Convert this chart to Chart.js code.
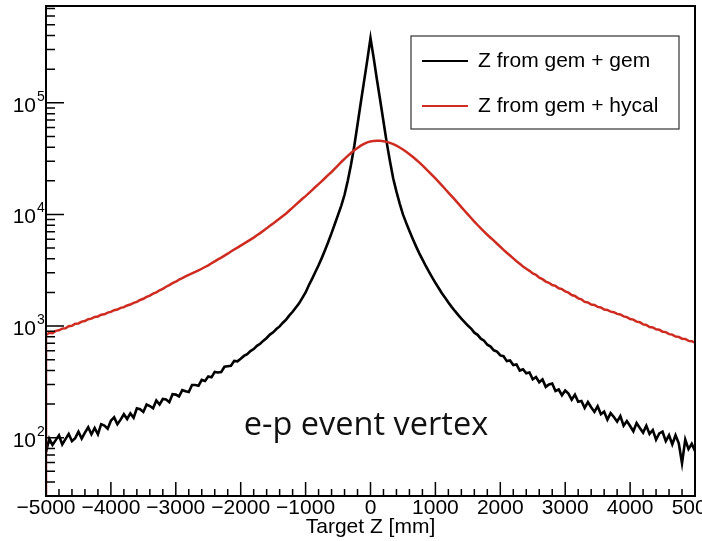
<!DOCTYPE html>
<html>
<head>
<meta charset="utf-8">
<script src="https://cdn.jsdelivr.net/npm/chart.js@4.4.1/dist/chart.umd.min.js"></script>
<style>
  body { margin: 0; background: #fff; }
</style>
</head>
<body>
<canvas id="vertex" width="702" height="541"></canvas>
<script>
// bin positions, mm
const zBins = [
  -5000, -4950, -4900, -4850, -4800, -4750, -4700, -4650, -4600, -4550,
  -4500, -4450, -4400, -4350, -4300, -4250, -4200, -4150, -4100, -4050,
  -4000, -3950, -3900, -3850, -3800, -3750, -3700, -3650, -3600, -3550,
  -3500, -3450, -3400, -3350, -3300, -3250, -3200, -3150, -3100, -3050,
  -3000, -2950, -2900, -2850, -2800, -2750, -2700, -2650, -2600, -2550,
  -2500, -2450, -2400, -2350, -2300, -2250, -2200, -2150, -2100, -2050,
  -2000, -1950, -1900, -1850, -1800, -1750, -1700, -1650, -1600, -1550,
  -1500, -1450, -1400, -1350, -1300, -1250, -1200, -1150, -1100, -1050,
  -1000, -950, -900, -850, -800, -750, -700, -650, -600, -550,
  -500, -450, -400, -350, -300, -250, -200, -150, -100, -50,
  0,
  50, 100, 150, 200, 250, 300, 350, 400, 450, 500,
  550, 600, 650, 700, 750, 800, 850, 900, 950, 1000,
  1050, 1100, 1150, 1200, 1250, 1300, 1350, 1400, 1450, 1500,
  1550, 1600, 1650, 1700, 1750, 1800, 1850, 1900, 1950, 2000,
  2050, 2100, 2150, 2200, 2250, 2300, 2350, 2400, 2450, 2500,
  2550, 2600, 2650, 2700, 2750, 2800, 2850, 2900, 2950, 3000,
  3050, 3100, 3150, 3200, 3250, 3300, 3350, 3400, 3450, 3500,
  3550, 3600, 3650, 3700, 3750, 3800, 3850, 3900, 3950, 4000,
  4050, 4100, 4150, 4200, 4250, 4300, 4350, 4400, 4450, 4500,
  4550, 4600, 4650, 4700, 4750, 4800, 4850, 4900, 4950, 5000
];

// Z from gem + gem (counts)
const gemGem = [
  74, 98, 86, 95, 105, 87, 97, 108, 93, 99,
  113, 98, 111, 124, 107, 122, 107, 132, 128, 120,
  142, 152, 132, 145, 162, 147, 165, 151, 183, 180,
  170, 198, 192, 183, 215, 198, 222, 220, 208, 245,
  243, 234, 267, 260, 256, 296, 296, 292, 329, 322,
  353, 347, 388, 384, 387, 432, 436, 440, 487, 483,
  510, 540, 560, 596, 622, 665, 694, 740, 782, 838,
  878, 940, 992, 1070, 1142, 1245, 1342, 1465, 1598, 1785,
  2000, 2320, 2650, 3050, 3500, 4080, 4800, 5700, 6800, 8200,
  9900, 12000, 15000, 20000, 28000, 41000, 64000, 100000, 155000, 240000,
  380000,
  250000, 160000, 105000, 68000, 44000, 30000, 21000, 16000, 12500, 10000,
  8400, 7100, 6050, 5200, 4500, 3950, 3470, 3070, 2730, 2440,
  2190, 1970, 1790, 1625, 1485, 1365, 1260, 1165, 1085, 1010,
  950, 872, 834, 770, 738, 680, 655, 606, 590, 545,
  536, 485, 492, 447, 453, 399, 410, 377, 383, 333,
  349, 314, 332, 285, 300, 305, 262, 270, 240, 264,
  248, 219, 243, 210, 213, 185, 208, 187, 170, 191,
  162, 171, 145, 166, 153, 139, 156, 128, 141, 127,
  114, 135, 122, 111, 128, 108, 117, 96, 109, 113,
  93, 105, 87, 105, 89, 59, 96, 79, 88, 76
];

// Z from gem + hycal (counts)
const gemHycal = [
  830, 870, 862, 905, 915, 948, 955, 995, 1005, 1050,
  1055, 1095, 1108, 1150, 1165, 1205, 1218, 1262, 1275, 1320,
  1338, 1385, 1405, 1455, 1478, 1530, 1558, 1612, 1648, 1712,
  1755, 1825, 1875, 1950, 2005, 2090, 2155, 2250, 2325, 2420,
  2495, 2600, 2685, 2790, 2875, 2960, 3050, 3150, 3260, 3380,
  3500, 3650, 3800, 3950, 4100, 4270, 4450, 4650, 4850, 5040,
  5250, 5470, 5700, 5950, 6200, 6500, 6800, 7150, 7500, 7900,
  8300, 8750, 9200, 9700, 10200, 10850, 11500, 12250, 13000, 13800,
  14600, 15500, 16500, 17600, 18700, 19900, 21200, 22600, 24000, 25700,
  27500, 29500, 31500, 33500, 35500, 37500, 39400, 41300, 42900, 44200,
  45100,
  45600, 45800, 45700, 45300, 44700, 43750, 42660, 41300, 39810, 38190,
  36480, 34670, 32890, 31050, 29240, 27480, 25760, 24100, 22490, 20990,
  19540, 18200, 16900, 15700, 14590, 13550, 12560, 11640, 10790, 10000,
  9290, 8630, 8040, 7500, 7015, 6577, 6180, 5820, 5460, 5130,
  4820, 4540, 4280, 4040, 3810, 3610, 3420, 3260, 3120, 2960,
  2880, 2710, 2630, 2500, 2440, 2330, 2290, 2180, 2140, 2040,
  1990, 1895, 1860, 1770, 1735, 1645, 1625, 1560, 1545, 1485,
  1465, 1405, 1392, 1345, 1332, 1285, 1268, 1220, 1202, 1155,
  1142, 1095, 1082, 1035, 1022, 980, 972, 935, 928, 890,
  882, 846, 838, 806, 800, 770, 765, 736, 732, 710
];

const seriesNames = ['Z from gem + gem', 'Z from gem + hycal'];
const seriesColors = ['#000000', 'rgb(206,44,32)'];

const xTickValues = [-5000, -4000, -3000, -2000, -1000, 0, 1000, 2000, 3000, 4000, 5000];
const yTickValues = [100, 1000, 10000, 100000];
const yTickExponents = ['2', '3', '4', '5'];

const axisFont = { family: '"Liberation Sans", Arial, sans-serif', size: 21 };

function points(counts) {
  return zBins.map((z, i) => ({ x: z, y: counts[i] }));
}

// ROOT style frame, inward ticks, 10^n labels, legend box
const rootFrame = {
  id: 'rootFrame',
  afterDatasetsDraw(chart) {
    const { ctx, chartArea: a, scales: { x, y } } = chart;
    ctx.save();
    ctx.strokeStyle = '#000';
    ctx.lineWidth = 1.5;
    ctx.beginPath();
    for (let v = x.min; v <= x.max; v += 200) {
      const px = x.getPixelForValue(v);
      const len = v % 1000 === 0 ? 14 : 7;
      ctx.moveTo(px, a.bottom);
      ctx.lineTo(px, a.bottom - len);
    }
    for (let e = 1; e <= 5; e++) {
      for (let m = 1; m <= 9; m++) {
        const v = m * Math.pow(10, e);
        if (v < y.min || v > y.max) continue;
        const py = y.getPixelForValue(v);
        const len = m === 1 ? 18 : 9;
        ctx.moveTo(a.left, py);
        ctx.lineTo(a.left + len, py);
      }
    }
    ctx.stroke();
    ctx.lineWidth = 2;
    ctx.strokeRect(a.left, a.top, a.right - a.left, a.bottom - a.top);

    // y labels as 10 with raised exponent
    ctx.fillStyle = '#000';
    ctx.textBaseline = 'alphabetic';
    yTickValues.forEach((v, i) => {
      const py = y.getPixelForValue(v);
      ctx.font = '21px "Liberation Sans", Arial, sans-serif';
      ctx.textAlign = 'right';
      ctx.fillText('10', 36, py + 9);
      ctx.font = '14px "Liberation Sans", Arial, sans-serif';
      ctx.textAlign = 'left';
      ctx.fillText(yTickExponents[i], 37, py - 2);
    });
    ctx.restore();
  },
  afterDraw(chart) {
    const ctx = chart.ctx;
    ctx.save();
    ctx.fillStyle = '#fff';
    ctx.fillRect(411, 36, 268, 93);
    ctx.strokeStyle = '#333';
    ctx.lineWidth = 1.2;
    ctx.strokeRect(411, 36, 268, 93);
    ctx.font = '21px "Liberation Sans", Arial, sans-serif';
    ctx.textBaseline = 'middle';
    chart.data.datasets.forEach((ds, i) => {
      const ly = 61 + i * 45;
      ctx.strokeStyle = ds.borderColor;
      ctx.lineWidth = 2;
      ctx.beginPath();
      ctx.moveTo(422, ly);
      ctx.lineTo(468, ly);
      ctx.stroke();
      ctx.fillStyle = '#000';
      ctx.fillText(ds.label, 478, ly);
    });
    // slide annotation
    ctx.font = '32.5px "Open Sans", sans-serif';
    ctx.fillStyle = '#111';
    ctx.textAlign = 'center';
    ctx.fillText('e-p event vertex', 366, 426);
    ctx.restore();
  }
};

new Chart(document.getElementById('vertex'), {
  type: 'line',
  data: {
    datasets: [
      {
        label: seriesNames[0],
        data: points(gemGem),
        borderColor: seriesColors[0],
        borderWidth: 2.6,
        pointRadius: 0,
        order: 1
      },
      {
        label: seriesNames[1],
        // empty underflow edge: the histogram rises from the axis
        data: [{ x: zBins[0], y: 1 }].concat(points(gemHycal)),
        borderColor: seriesColors[1],
        borderWidth: 2.5,
        pointRadius: 0,
        order: 0
      }
    ]
  },
  options: {
    responsive: false,
    animation: false,
    layout: { padding: { top: 6, right: 7, left: 0, bottom: 0 } },
    plugins: {
      legend: { display: false },
      tooltip: { enabled: false }
    },
    scales: {
      x: {
        type: 'linear',
        min: -5000,
        max: 5000,
        afterBuildTicks: (s) => { s.ticks = xTickValues.map(v => ({ value: v })); },
        afterFit: (s) => { s.height = 45; s.paddingLeft = 0; s.paddingRight = 0; s.paddingTop = 0; s.paddingBottom = 0; },
        ticks: {
          font: axisFont,
          color: '#000',
          padding: 0,
          maxRotation: 0,
          autoSkip: false,
          callback: (v) => String(v).replace('-', '\u2212')
        },
        grid: { display: false, drawTicks: false },
        border: { display: false },
        title: {
          display: true,
          text: 'Target Z [mm]',
          font: axisFont,
          color: '#000',
          padding: { top: 0, bottom: 1 }
        }
      },
      y: {
        type: 'logarithmic',
        min: 30,
        max: 737000,
        afterBuildTicks: (s) => { s.ticks = yTickValues.map(v => ({ value: v })); },
        afterFit: (s) => { s.width = 46; s.paddingTop = 0; s.paddingBottom = 0; s.paddingLeft = 0; s.paddingRight = 0; },
        ticks: { display: false },
        grid: { display: false, drawTicks: false },
        border: { display: false }
      }
    }
  },
  plugins: [rootFrame]
});
</script>
</body>
</html>
